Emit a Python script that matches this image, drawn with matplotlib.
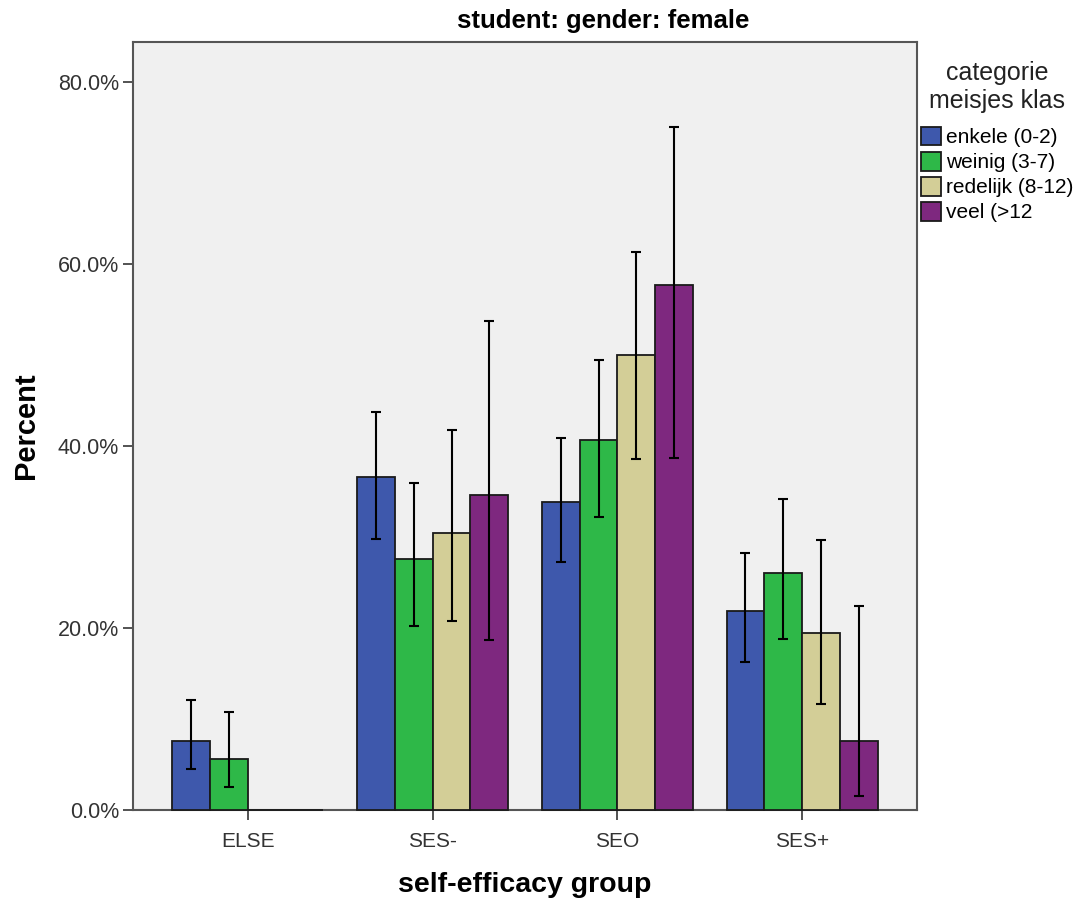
import matplotlib
matplotlib.use("Agg")
import matplotlib.pyplot as plt
import numpy as np
from matplotlib.patches import Patch

plt.rcParams['font.family'] = ['Liberation Sans', 'DejaVu Sans']

groups = ["ELSE", "SES-", "SEO", "SES+"]
series = ["enkele (0-2)", "weinig (3-7)", "redelijk (8-12)", "veel (>12"]
colors = ["#3E58AC", "#2EB848", "#D3CE97", "#7E287F"]

values = {
    "enkele (0-2)":    [7.6, 36.6, 33.8, 21.9],
    "weinig (3-7)":    [5.6, 27.6, 40.7, 26.0],
    "redelijk (8-12)": [0.0, 30.4, 50.0, 19.4],
    "veel (>12":       [0.0, 34.6, 57.7, 7.6],
}
err_low = {
    "enkele (0-2)":    [4.5, 29.8, 27.3, 16.3],
    "weinig (3-7)":    [2.5, 20.2, 32.2, 18.8],
    "redelijk (8-12)": [None, 20.8, 38.6, 11.6],
    "veel (>12":       [None, 18.7, 38.7, 1.5],
}
err_high = {
    "enkele (0-2)":    [12.1, 43.7, 40.9, 28.2],
    "weinig (3-7)":    [10.8, 35.9, 49.5, 34.2],
    "redelijk (8-12)": [None, 41.8, 61.3, 29.7],
    "veel (>12":       [None, 53.7, 75.1, 22.4],
}
yticks = [0, 20, 40, 60, 80]
ytick_labels = ["0.0%", "20.0%", "40.0%", "60.0%", "80.0%"]

fig = plt.figure(figsize=(10.81, 9.02), dpi=100)
ax = fig.add_axes([133/1081, 92/902, 784/1081, 768/902])
ax.set_facecolor("#F0F0F0")

x = np.arange(len(groups))
w = 0.205
offsets = (np.arange(4) - 1.5) * w
for i, s in enumerate(series):
    xs = x + offsets[i]
    ax.bar(xs, values[s], width=w, color=colors[i], edgecolor="#1a1a1a",
           linewidth=1.3, zorder=2.6, clip_on=False)
    for j in range(len(groups)):
        lo, hi = err_low[s][j], err_high[s][j]
        if lo is None:
            continue
        ax.errorbar(xs[j], values[s][j],
                    yerr=[[values[s][j] - lo], [hi - values[s][j]]],
                    fmt="none", ecolor="black", elinewidth=1.5,
                    capsize=3.8, capthick=1.5, zorder=3)

ax.set_xlim(-0.62, 3.62)
ax.set_ylim(0, 84.4)
ax.set_xticks(x)
ax.set_xticklabels(groups, fontsize=15)
ax.set_yticks(yticks)
ax.set_yticklabels(ytick_labels, fontsize=15.5, color="#333333")
for lab in ax.get_xticklabels():
    lab.set_color("#333333")
ax.tick_params(axis="both", direction="out", length=7, width=1.3,
               color="#444444", pad=3)
ax.tick_params(axis="x", pad=9)
for sp in ax.spines.values():
    sp.set_color("#555555")
    sp.set_linewidth(1.5)

fig.text(525/1081, 1 - 885/902, "self-efficacy group", fontsize=20.5,
         fontweight="bold", ha="center", va="center")
ax.set_ylabel("Percent", fontsize=21, fontweight="bold", labelpad=13)
fig.text(603/1081, 1 - 21/902, "student: gender: female", fontsize=18.5,
         fontweight="bold", ha="center", va="center")

handles = [Patch(facecolor=c, edgecolor="#1a1a1a", linewidth=1.3) for c in colors]
leg = fig.legend(handles, series, loc="upper left",
                 bbox_to_anchor=(918/1081, 1 - 58/902),
                 bbox_transform=fig.transFigure, frameon=False,
                 title="categorie\nmeisjes klas", fontsize=15,
                 title_fontsize=18, handlelength=0.95, handleheight=1.0,
                 handletextpad=0.25, labelspacing=0.22, borderaxespad=0,
                 borderpad=0.15)
leg.get_title().set_multialignment("center")
leg.get_title().set_color("#222222")
leg._legend_box.align = "center"
leg._legend_box.sep = 10

fig.savefig("out.png", dpi=100, facecolor="white")
